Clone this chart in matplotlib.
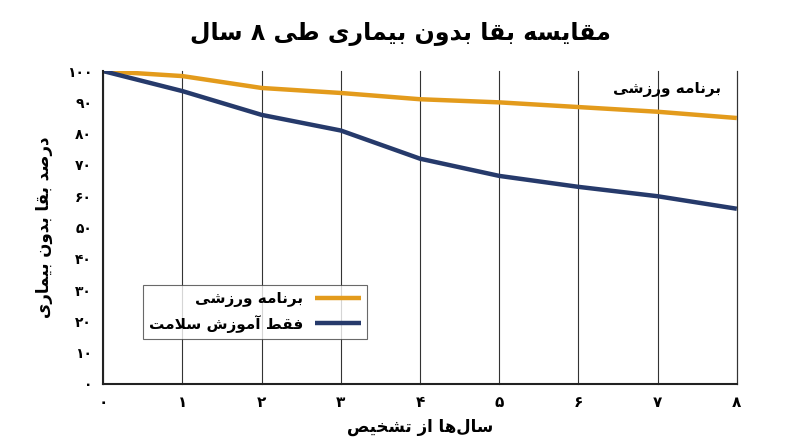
import matplotlib
matplotlib.use("Agg")
import matplotlib.pyplot as plt

years = [0, 1, 2, 3, 4, 5, 6, 7, 8]
exercise = [100, 98.4, 94.6, 93, 91, 90, 88.5, 87, 85]
education = [100, 93.6, 86, 81, 72, 66.5, 63, 60, 56]
fa_digits = "۰۱۲۳۴۵۶۷۸۹"

title = "مقایسه بقا بدون بیماری طی ۸ سال"
ylabel = "درصد بقا بدون بیماری"
xlabel = "سال\u200cها از تشخیص"
name_ex = "برنامه ورزشی"
name_ed = "فقط آموزش سلامت"

DUAL = {'ب': (0xFE8F, 0xFE90, 0xFE91, 0xFE92), 'ت': (0xFE95, 0xFE96, 0xFE97, 0xFE98),
        'خ': (0xFEA5, 0xFEA6, 0xFEA7, 0xFEA8), 'س': (0xFEB1, 0xFEB2, 0xFEB3, 0xFEB4),
        'ش': (0xFEB5, 0xFEB6, 0xFEB7, 0xFEB8), 'ص': (0xFEB9, 0xFEBA, 0xFEBB, 0xFEBC),
        'ط': (0xFEC1, 0xFEC2, 0xFEC3, 0xFEC4), 'ف': (0xFED1, 0xFED2, 0xFED3, 0xFED4),
        'ق': (0xFED5, 0xFED6, 0xFED7, 0xFED8), 'ل': (0xFEDD, 0xFEDE, 0xFEDF, 0xFEE0),
        'م': (0xFEE1, 0xFEE2, 0xFEE3, 0xFEE4), 'ن': (0xFEE5, 0xFEE6, 0xFEE7, 0xFEE8),
        'ه': (0xFEE9, 0xFEEA, 0xFEEB, 0xFEEC), 'ی': (0xFEEF, 0xFEF0, 0xFEF3, 0xFEF4)}
RIGHT = {'ا': (0xFE8D, 0xFE8E), 'آ': (0xFE81, 0xFE82), 'د': (0xFEA9, 0xFEAA),
         'ر': (0xFEAD, 0xFEAE), 'ز': (0xFEAF, 0xFEB0), 'و': (0xFEED, 0xFEEE)}


def shape(s):
    chars = []
    i = 0
    while i < len(s):
        if s[i] == 'ل' and i + 1 < len(s) and s[i + 1] == 'ا':
            chars.append('LA')
            i += 2
        else:
            chars.append(s[i])
            i += 1

    def joining(c):
        return c in DUAL or c in RIGHT or c == 'LA'
    out = []
    for i, c in enumerate(chars):
        prev = chars[i - 1] if i > 0 else None
        nxt = chars[i + 1] if i + 1 < len(chars) else None
        jp = prev is not None and prev in DUAL
        if c == 'LA':
            out.append(chr(0xFEFC if jp else 0xFEFB))
        elif c in DUAL:
            jn = nxt is not None and joining(nxt)
            f = DUAL[c]
            out.append(chr(f[3] if jp and jn else f[2] if jn else f[1] if jp else f[0]))
        elif c in RIGHT:
            out.append(chr(RIGHT[c][1] if jp else RIGHT[c][0]))
        elif c == '\u200c':
            continue
        else:
            out.append(c)
    return "".join(out[::-1])


def fa(n):
    return "".join(fa_digits[int(d)] for d in str(n))


plt.rcParams['font.family'] = ['DejaVu Sans']
ORANGE = "#E39B1C"
NAVY = "#263A6B"

fig = plt.figure(figsize=(8, 4.47), dpi=100)
ax = fig.add_axes([0.129, 0.141, 0.792, 0.70])
ax.plot(years, exercise, color=ORANGE, lw=3.2, label=shape(name_ex), solid_capstyle='butt')
ax.plot(years, education, color=NAVY, lw=3.2, label=shape(name_ed), solid_capstyle='butt')
ax.set_xlim(0, 8)
ax.set_ylim(0, 100)
ax.set_xticks(years)
ax.set_xticklabels([fa(y) for y in years], fontsize=11, fontweight='bold')
ax.set_yticks(range(0, 101, 10))
ax.set_yticklabels([fa(v) for v in range(0, 101, 10)], fontsize=10, fontweight='bold')
ax.grid(axis='x', color='#333333', lw=0.8, clip_on=False)
ax.tick_params(length=0, pad=8)
for sp in ['top']:
    ax.spines[sp].set_visible(False)
ax.spines['right'].set_color('#333333')
ax.spines['right'].set_linewidth(0.8)
ax.spines['left'].set_color('#222222')
ax.spines['bottom'].set_color('#222222')
ax.spines['left'].set_linewidth(1.5)
ax.spines['bottom'].set_linewidth(1.5)

ax.set_xlabel(shape(xlabel), fontsize=12, fontweight='bold', labelpad=6)
ax.set_ylabel(shape(ylabel), fontsize=12, fontweight='bold', labelpad=10)
fig.suptitle(shape(title), fontsize=17, fontweight='bold', y=0.95)
ax.text(7.8, 94, shape(name_ex), ha='right', va='center', fontsize=11, fontweight='bold')

leg = ax.legend(loc='lower left', bbox_to_anchor=(0.05, 0.12), frameon=True,
                fancybox=False, edgecolor='#444444', markerfirst=False, handlelength=3,
                prop={'weight': 'bold', 'size': 11})
leg.get_frame().set_linewidth(0.8)
fig.savefig("out.png", dpi=100)
